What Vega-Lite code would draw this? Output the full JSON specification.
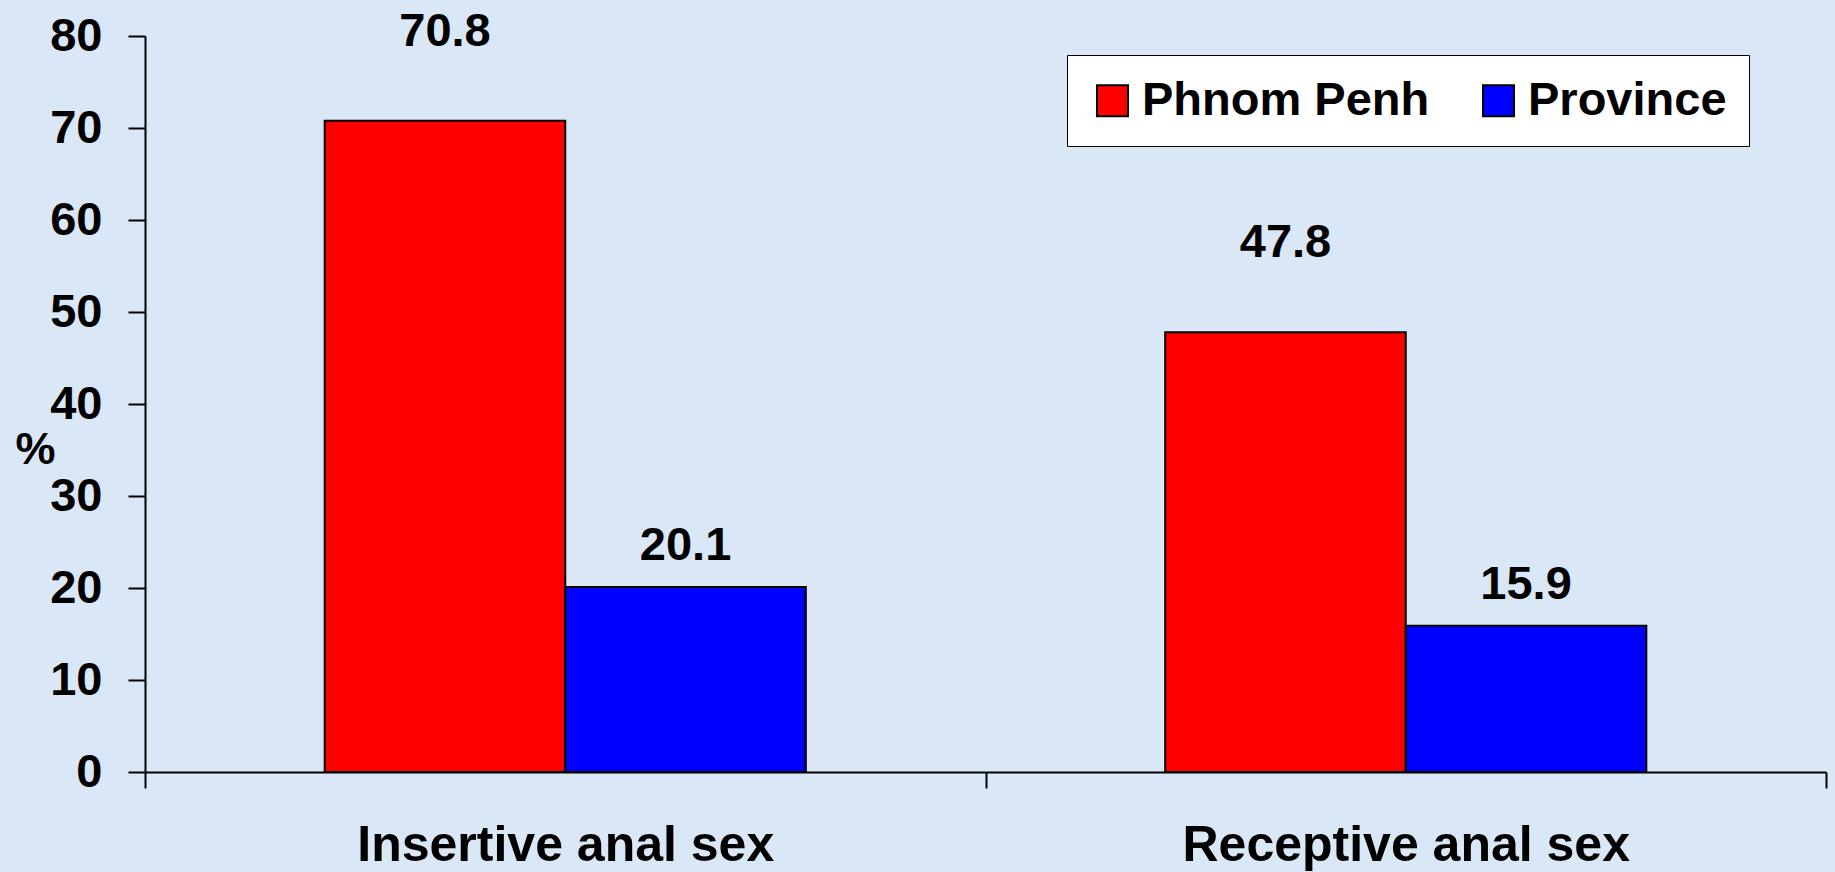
{
  "$schema": "https://vega.github.io/schema/vega-lite/v6.json",
  "autosize": "none",
  "width": 1681,
  "height": 736,
  "padding": {"left": 145, "top": 36, "right": 9, "bottom": 100},
  "background": "#d9e7f6",
  "config": {
    "view": {"stroke": null},
    "font": "Liberation Sans",
    "axis": {
      "grid": false,
      "domainColor": "black",
      "domainWidth": 2,
      "tickColor": "black",
      "tickWidth": 2,
      "labelColor": "black",
      "labelFont": "Liberation Sans",
      "labelFontWeight": "bold",
      "titleColor": "black",
      "titleFont": "Liberation Sans",
      "titleFontWeight": "bold"
    }
  },
  "data": {
    "values": [
      {"behavior": "Insertive anal sex", "area": "Phnom Penh", "pct": 70.8},
      {"behavior": "Insertive anal sex", "area": "Province", "pct": 20.1},
      {"behavior": "Receptive anal sex", "area": "Phnom Penh", "pct": 47.8},
      {"behavior": "Receptive anal sex", "area": "Province", "pct": 15.9}
    ]
  },
  "encoding": {
    "x": {
      "field": "behavior",
      "type": "nominal",
      "sort": null,
      "scale": {"paddingInner": 0, "paddingOuter": 0},
      "axis": {
        "title": null,
        "labelAngle": 0,
        "labelFontSize": 50,
        "labelBaseline": "alphabetic",
        "labelPadding": 72,
        "tickSize": 16,
        "tickBand": "extent",
        "labelLimit": 800
      }
    },
    "xOffset": {
      "field": "area",
      "type": "nominal",
      "sort": ["Phnom Penh", "Province"],
      "scale": {"paddingInner": 0, "paddingOuter": 0.747}
    },
    "y": {
      "field": "pct",
      "type": "quantitative",
      "scale": {"domain": [0, 80], "nice": false},
      "axis": {
        "title": "%",
        "titleAngle": 0,
        "titleFontSize": 45,
        "titleX": -110,
        "titleY": 413,
        "titleAlign": "center",
        "titleBaseline": "middle",
        "values": [0, 10, 20, 30, 40, 50, 60, 70, 80],
        "labelFontSize": 47,
        "labelPadding": 26,
        "tickSize": 17
      }
    }
  },
  "layer": [
    {
      "mark": {"type": "bar", "stroke": "black", "strokeWidth": 2},
      "encoding": {
        "color": {
          "field": "area",
          "type": "nominal",
          "scale": {"domain": ["Phnom Penh", "Province"], "range": ["#ff0000", "#0000ff"]},
          "legend": {
            "title": null,
            "orient": "none",
            "direction": "horizontal",
            "legendX": 922,
            "legendY": 19,
            "fillColor": "white",
            "strokeColor": "black",
            "padding": 22,
            "symbolType": "square",
            "symbolSize": 961,
            "symbolStrokeColor": "black",
            "symbolStrokeWidth": 2,
            "labelFontSize": 47,
            "labelFontWeight": "bold",
            "labelColor": "black",
            "labelFont": "Liberation Sans",
            "labelOffset": 6,
            "columnPadding": 45,
            "labelLimit": 600
          }
        }
      }
    },
    {
      "transform": [{"filter": "datum.area === 'Phnom Penh'"}],
      "mark": {"type": "text", "fontSize": 47, "fontWeight": "bold", "color": "black", "baseline": "alphabetic", "dy": -75},
      "encoding": {"text": {"field": "pct", "type": "quantitative", "format": ".1f"}}
    },
    {
      "transform": [{"filter": "datum.area === 'Province'"}],
      "mark": {"type": "text", "fontSize": 47, "fontWeight": "bold", "color": "black", "baseline": "alphabetic", "dy": -27},
      "encoding": {"text": {"field": "pct", "type": "quantitative", "format": ".1f"}}
    }
  ]
}
